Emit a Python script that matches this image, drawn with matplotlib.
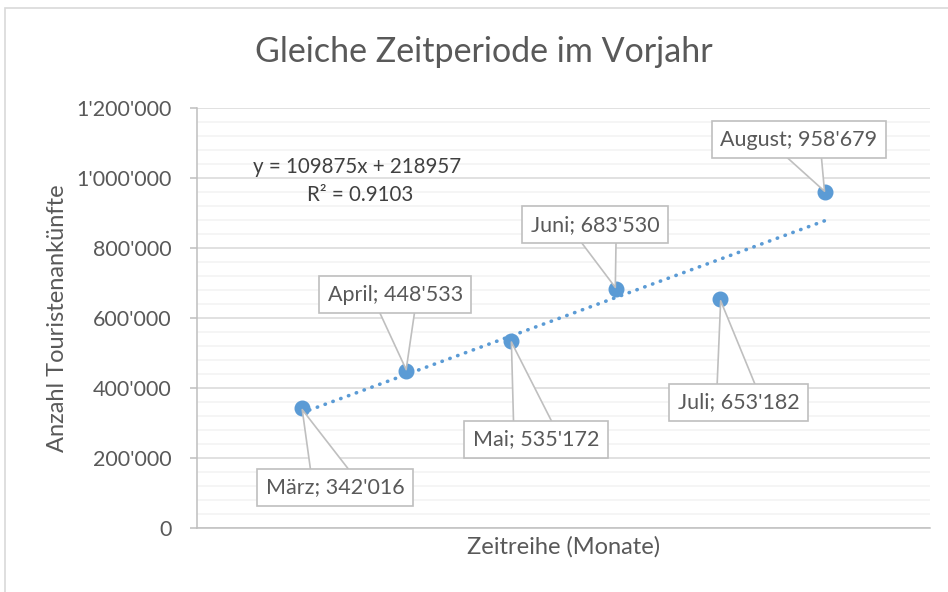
import numpy as np
import matplotlib
matplotlib.use("Agg")
import matplotlib.pyplot as plt
from matplotlib.patches import Rectangle

plt.rcParams['font.family'] = ['Lato', 'DejaVu Sans']

# Daten: Touristenankünfte, gleiche Zeitperiode im Vorjahr
monate = ['März', 'April', 'Mai', 'Juni', 'Juli', 'August']
x_pos = [1, 2, 3, 4, 5, 6]
ankuenfte = [342016, 448533, 535172, 683530, 653182, 958679]

# Lage der Beschriftungen relativ zum Punkt (Punkte)
label_offsets = [(24, -57), (-8, 55), (18, -71), (-15, 46), (13, -74), (-19, 38)]

blau = '#5b9bd5'
grau_text = '#595959'


def fmt(v):
    return '{:,}'.format(int(v)).replace(',', "'")


fig = plt.figure(figsize=(9.48, 5.92), dpi=100)
fig.patches.append(Rectangle((0.005, -0.1), 1.2, 1.0865, transform=fig.transFigure,
                             fill=False, edgecolor='#d9d9d9', linewidth=1.2))
ax = fig.add_axes([0.2078, 0.1081, 0.773, 0.7095])

# Gitternetz
ax.set_ylim(0, 1200000)
ax.set_xlim(0, 7)
ax.set_yticks(np.arange(0, 1200001, 200000))
ax.set_yticks(np.arange(0, 1200001, 40000), minor=True)
ax.grid(True, which='minor', axis='y', color='#f2f2f2', linewidth=1.1)
ax.grid(True, which='major', axis='y', color='#d9d9d9', linewidth=1.1)
ax.set_axisbelow(True)
ax.set_xticks([])
ax.set_yticklabels([fmt(v) for v in ax.get_yticks()])
ax.tick_params(axis='y', which='major', length=5, color='#bfbfbf', width=1.1,
               labelsize=15.5, labelcolor=grau_text, pad=13)
ax.tick_params(axis='y', which='minor', length=0)
for s in ['top', 'right']:
    ax.spines[s].set_visible(False)
for s in ['left', 'bottom']:
    ax.spines[s].set_color('#bfbfbf')
    ax.spines[s].set_linewidth(1.1)

# Trendlinie
k, d = np.polyfit(x_pos, ankuenfte, 1)
pred = k * np.array(x_pos) + d
r2 = 1 - np.sum((np.array(ankuenfte) - pred) ** 2) / np.sum((np.array(ankuenfte) - np.mean(ankuenfte)) ** 2)
xt = np.array([x_pos[0], x_pos[-1]])
ax.plot(xt, k * xt + d, linestyle=(0, (0.1, 2.2)), color=blau, linewidth=2.6,
        dash_capstyle='round', zorder=3)

ax.plot(x_pos, ankuenfte, linestyle='none', marker='o', markersize=10.5, color=blau, zorder=4)

for m, xv, yv, off in zip(monate, x_pos, ankuenfte, label_offsets):
    ax.annotate(f'{m}; {fmt(yv)}', xy=(xv, yv), xytext=off, textcoords='offset points',
                ha='center', va='center', fontsize=15.5, color=grau_text, zorder=5,
                bbox=dict(boxstyle='square,pad=0.4', fc='white', ec='#bfbfbf', lw=1.2),
                arrowprops=dict(arrowstyle='wedge,tail_width=2.1,shrink_factor=0.5',
                                fc='white', ec='#bfbfbf', lw=1.2, patchA=None,
                                shrinkA=0, shrinkB=1))

ax.text(0.218, 0.86, f'y = {k:.0f}x + {d:.0f}', transform=ax.transAxes, fontsize=14.8,
        color='#404040', ha='center', va='center')
ax.text(0.222, 0.793, f'R² = {r2:.4f}', transform=ax.transAxes, fontsize=14.8,
        color='#404040', ha='center', va='center')

fig.text(0.51, 0.912, 'Gleiche Zeitperiode im Vorjahr', ha='center', va='center',
         fontsize=24.5, color=grau_text)
ax.set_xlabel('Zeitreihe (Monate)', fontsize=17, color=grau_text, labelpad=6)
ax.set_ylabel('Anzahl Touristenankünfte', fontsize=17, color=grau_text, labelpad=6)

fig.savefig('out.png', dpi=100)
